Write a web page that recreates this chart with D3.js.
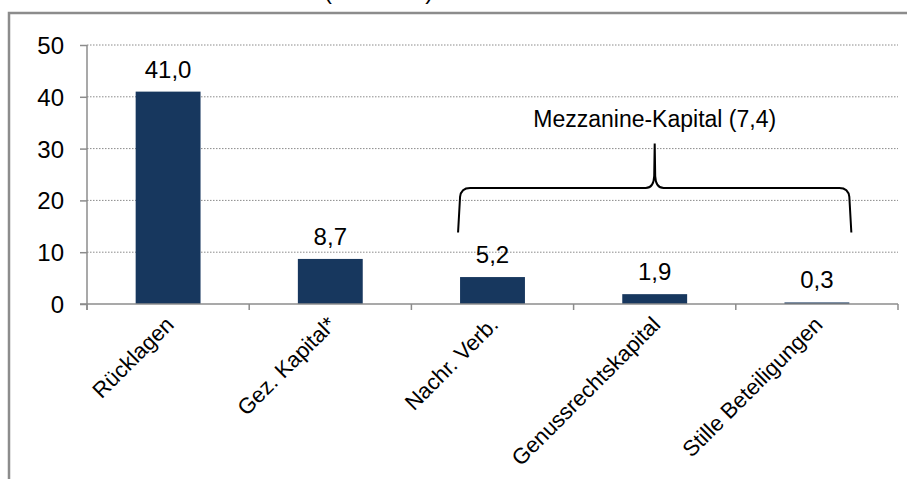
<!DOCTYPE html>
<html><head><meta charset="utf-8">
<script src="https://cdn.jsdelivr.net/npm/d3@7"></script>
<style>
html,body{margin:0;padding:0;background:#fff;}
svg{display:block;}
text{font-family:"Liberation Sans",Arial,sans-serif;fill:#000;}
</style></head>
<body>
<svg id="chart" width="907" height="479"></svg>
<script>
const categories = ["Rücklagen", "Gez. Kapital*", "Nachr. Verb.", "Genussrechtskapital", "Stille Beteiligungen"];
const values = [41.0, 8.7, 5.2, 1.9, 0.3];
const yTicks = [0, 10, 20, 30, 40, 50];
const valueLabels = ["41,0", "8,7", "5,2", "1,9", "0,3"];
const titleText = "(in Mrd. €)";
const braceLabel = "Mezzanine-Kapital (7,4)";
const braceFrom = "Nachr. Verb.";
const braceTo = "Stille Beteiligungen";

const svg = d3.select("#chart");
const W = 907, H = 479;
const mLeft = 87, mRight = 898, mTop = 45, mBottom = 304;

const x = d3.scaleBand().domain(categories).range([mLeft, mRight]).paddingInner(0.6).paddingOuter(0.3);
const y = d3.scaleLinear().domain([0, 50]).range([mBottom, mTop]);

// Cut-off title at very top (cropped in the reference as well)
svg.append("text").attr("x", 324).attr("y", -1).attr("font-size", 24).text(titleText);

// Frame
svg.append("path").attr("d", `M9,${H + 5} L9,13 L${W + 5},13`).attr("fill", "none").attr("stroke", "#8c8c8c").attr("stroke-width", 2.5);

// Gridlines
svg.append("g").selectAll("line").data(yTicks.filter(d => d > 0)).join("line")
  .attr("x1", mLeft).attr("x2", mRight)
  .attr("y1", d => y(d)).attr("y2", d => y(d))
  .attr("stroke", "#8a8a8a").attr("stroke-width", 1).attr("stroke-dasharray", "1.5,1.5");

// Y axis
const yAxis = d3.axisLeft(y).tickValues(yTicks).tickSize(7).tickPadding(16).tickFormat(d3.format("d"));
const gy = svg.append("g").attr("transform", `translate(${mLeft},0)`).call(yAxis);
gy.select(".domain").attr("stroke", "#8c8c8c").attr("stroke-width", 1.5).attr("d", `M0,${mTop}V${mBottom + 6}`);
gy.selectAll(".tick line").attr("stroke", "#8c8c8c").attr("stroke-width", 1.5);
gy.selectAll(".tick text").attr("font-size", 24).attr("font-family", '"Liberation Sans",Arial,sans-serif').attr("fill", "#000").attr("dy", "0.35em");

// Bars
svg.append("g").selectAll("rect").data(categories).join("rect")
  .attr("x", d => x(d)).attr("width", x.bandwidth())
  .attr("y", (d, i) => y(values[i])).attr("height", (d, i) => y(0) - y(values[i]))
  .attr("fill", "#17375E");

// X axis line and ticks
const boundaries = categories.map(c => x(c) - x.paddingOuter() * x.step()).concat([mRight]);
svg.append("line").attr("x1", mLeft - 7).attr("x2", mRight).attr("y1", mBottom).attr("y2", mBottom)
  .attr("stroke", "#8c8c8c").attr("stroke-width", 1.5);
svg.append("g").selectAll("line").data(boundaries).join("line")
  .attr("x1", d => d).attr("x2", d => d).attr("y1", mBottom).attr("y2", mBottom + 6)
  .attr("stroke", "#8c8c8c").attr("stroke-width", 1.5);

// Value labels
svg.append("g").selectAll("text").data(categories).join("text")
  .attr("x", d => x(d) + x.bandwidth() / 2)
  .attr("y", (d, i) => y(values[i]) - 14)
  .attr("text-anchor", "middle").attr("font-size", 24)
  .text((d, i) => valueLabels[i]);

// Category labels (rotated)
svg.append("g").selectAll("text").data(categories).join("text")
  .attr("transform", d => `translate(${x(d) + x.bandwidth() / 2 + 7},${mBottom + 22}) rotate(-45)`)
  .attr("text-anchor", "end").attr("font-size", 22)
  .text(d => d);

// Brace
const bx0 = x(braceFrom) - 2, bx1 = x(braceTo) + x.bandwidth() + 2;
const bxm = (bx0 + bx1) / 2;
const byEnd = y(13.8), byBar = y(22.4), byPeak = y(31.0);
const r = 9;
const bracePath = `M${bx0},${byEnd} L${bx0 + 2},${byBar + r} Q${bx0 + 3},${byBar} ${bx0 + 3 + r},${byBar}
  L${bxm - 9},${byBar} Q${bxm - 1},${byBar} ${bxm - 0.5},${byBar - 12} L${bxm},${byPeak}
  L${bxm + 0.5},${byBar - 12} Q${bxm + 1},${byBar} ${bxm + 9},${byBar}
  L${bx1 - 3 - r},${byBar} Q${bx1 - 3},${byBar} ${bx1 - 2},${byBar + r} L${bx1},${byEnd}`;
svg.append("path").attr("d", bracePath).attr("fill", "none").attr("stroke", "#000").attr("stroke-width", 2);
svg.append("text").attr("x", bxm).attr("y", y(34.2)).attr("text-anchor", "middle").attr("font-size", 23).text(braceLabel);
</script>
</body></html>
